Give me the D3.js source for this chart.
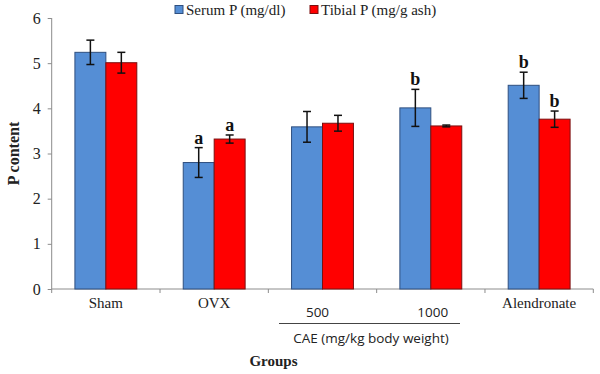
<!DOCTYPE html>
<html><head><meta charset="utf-8">
<script src="https://cdn.jsdelivr.net/npm/d3@7"></script>
<style>body{margin:0;background:#fff}svg{display:block}</style>
</head><body>
<svg id="c" width="600" height="374"></svg>
<script>
const categories = ["Sham","OVX","500","1000","Alendronate"];
const seriesNames = ["Serum P (mg/dl)","Tibial P (mg/g ash)"];
const serum = [5.24, 2.80, 3.59, 4.01, 4.51];
const serumErr = [0.27, 0.33, 0.34, 0.41, 0.29];
const tibial = [5.01, 3.32, 3.67, 3.61, 3.76];
const tibialErr = [0.23, 0.09, 0.175, 0.02, 0.18];
const serumSig = ["", "a", "", "b", "b"];
const tibialSig = ["", "a", "", "", "b"];
const yTicks = [0,1,2,3,4,5,6];

(function(){
const svg = d3.select("#c");
const mLeft = 51.7, mRight = 593.3, mTop = 18, mBottom = 289;
const x = d3.scaleBand().domain(categories).range([mLeft, mRight]).padding(0);
const inner = d3.scaleBand().domain([0,1]).range([0, x.bandwidth()]).paddingOuter(0.75).paddingInner(0);
const y = d3.scaleLinear().domain([0,6]).range([mBottom, mTop]);
const colors = ["#558ed5", "#ff0000"];
const strokes = ["#2f4f7f", "#7a1010"];
const serif = "Liberation Serif, Tinos, Times New Roman, DejaVu Serif, serif";
const sans = "Open Sans, Liberation Sans, sans-serif";

// axes
const yAxis = svg.append("g").attr("transform", `translate(${mLeft},0)`)
  .call(d3.axisLeft(y).tickValues(yTicks).tickSize(4).tickPadding(7).tickFormat(d3.format("d")));
yAxis.attr("font-family", null).attr("font-size", null);
yAxis.select(".domain").attr("stroke", "#8c8c8c").attr("d", `M0,${mTop}V${mBottom}`);
yAxis.selectAll(".tick line").attr("stroke", "#8c8c8c");
yAxis.selectAll(".tick text").style("font-family", serif).style("font-size", "16px").attr("fill", "#222");

const xAxis = svg.append("g").attr("transform", `translate(0,${mBottom})`);
xAxis.append("line").attr("x1", mLeft).attr("x2", mRight).attr("stroke", "#8c8c8c");
const bounds = categories.map(c => x(c)).concat([mRight]);
xAxis.selectAll(".xt").data(bounds).join("line")
  .attr("x1", d => d).attr("x2", d => d).attr("y1", 0).attr("y2", 4).attr("stroke", "#8c8c8c");

// bars
const series = [
  {vals: serum, err: serumErr, sig: serumSig},
  {vals: tibial, err: tibialErr, sig: tibialSig}
];
series.forEach((s, si) => {
  const g = svg.append("g");
  g.selectAll("rect").data(categories).join("rect")
    .attr("x", c => x(c) + inner(si))
    .attr("width", inner.bandwidth())
    .attr("y", (c, i) => y(s.vals[i]))
    .attr("height", (c, i) => y(0) - y(s.vals[i]))
    .attr("fill", colors[si]).attr("stroke", strokes[si]).attr("stroke-width", 1);
});
series.forEach((s, si) => {
  const eg = svg.append("g").attr("stroke", "#111").attr("stroke-width", 1.5);
  categories.forEach((c, i) => {
    const cx = x(c) + inner(si) + inner.bandwidth() / 2;
    const y1 = y(s.vals[i] + s.err[i]), y2 = y(s.vals[i] - s.err[i]);
    eg.append("line").attr("x1", cx).attr("x2", cx).attr("y1", y1).attr("y2", y2);
    eg.append("line").attr("x1", cx - 4).attr("x2", cx + 4).attr("y1", y1).attr("y2", y1);
    eg.append("line").attr("x1", cx - 4).attr("x2", cx + 4).attr("y1", y2).attr("y2", y2);
    if (s.sig[i]) {
      svg.append("text").attr("x", cx).attr("y", y1 - 4).attr("text-anchor", "middle")
        .style("font-family", serif).style("font-weight", "bold").style("font-size", "18px")
        .attr("fill", "#111").text(s.sig[i]);
    }
  });
});

// category labels
const serifCats = ["Sham","OVX","Alendronate"];
categories.forEach(c => {
  const cx = x(c) + x.bandwidth() / 2;
  if (serifCats.includes(c)) {
    svg.append("text").attr("x", cx).attr("y", 308).attr("text-anchor", "middle")
      .style("font-family", serif).style("font-size", "15px").attr("fill", "#222").text(c);
  } else {
    svg.append("text").attr("x", cx + (c === "500" ? -5 : 2)).attr("y", 317).attr("text-anchor", "middle")
      .style("font-family", sans).style("font-size", "13.5px").attr("fill", "#222").text(c);
  }
});
svg.append("line").attr("x1", 279).attr("x2", 460).attr("y1", 323.5).attr("y2", 323.5).attr("stroke", "#444").attr("stroke-width", 1);
svg.append("text").attr("x", 371).attr("y", 343).attr("text-anchor", "middle")
  .style("font-family", sans).style("font-size", "13.5px").attr("fill", "#222")
  .text("CAE (mg/kg body weight)");

// axis titles
svg.append("text").attr("x", 273.5).attr("y", 366).attr("text-anchor", "middle")
  .style("font-family", serif).style("font-weight", "bold").style("font-size", "15px").attr("fill", "#222").text("Groups");
svg.append("text").attr("transform", `translate(19,${(mTop + mBottom) / 2}) rotate(-90)`)
  .attr("text-anchor", "middle").style("font-family", serif).style("font-weight", "bold")
  .style("font-size", "16px").attr("fill", "#222").text("P content");

// legend
const legX = [175, 310];
seriesNames.forEach((n, i) => {
  svg.append("rect").attr("x", legX[i]).attr("y", 5.5).attr("width", 8).attr("height", 8)
    .attr("fill", colors[i]).attr("stroke", strokes[i]);
  svg.append("text").attr("x", legX[i] + 11).attr("y", 14.5).style("font-family", serif)
    .style("font-size", "15px").attr("fill", "#222").text(n);
});
})();
</script>
</body></html>
